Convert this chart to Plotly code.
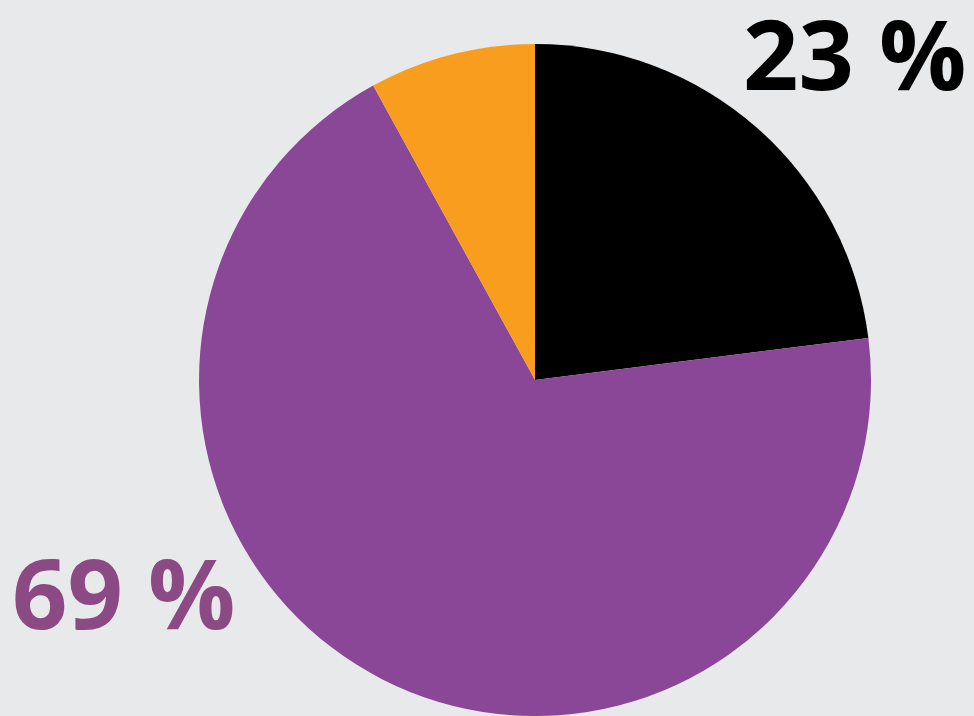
import plotly.graph_objects as go

# slice data, clockwise from 12 o'clock
labels = ["Black", "Purple", "Orange"]
values = [23, 69, 8]
colors = ["#000000", "#8a4697", "#f99d1f"]

# callout text
label_texts = ["23 %", "69 %"]
label_colors = ["#000000", "#8b4a84"]

fig = go.Figure()

fig.add_trace(go.Pie(
    labels=labels,
    values=values,
    sort=False,
    direction="clockwise",
    rotation=0,
    textinfo="none",
    hoverinfo="label+percent",
    marker=dict(colors=colors, line=dict(width=0)),
    domain=dict(x=[0.2043, 0.8943], y=[0.0, 0.9385]),
    showlegend=False,
))

fig.add_annotation(x=0.878, y=0.928, xref="paper", yref="paper",
                   text=label_texts[0], showarrow=False,
                   xanchor="center", yanchor="middle", borderpad=0,
                   font=dict(family="Open Sans", size=97, color=label_colors[0], weight="bold"))
fig.add_annotation(x=0.127, y=0.175, xref="paper", yref="paper",
                   text=label_texts[1], showarrow=False,
                   xanchor="center", yanchor="middle", borderpad=0,
                   font=dict(family="Open Sans", size=97, color=label_colors[1], weight="bold"))

fig.update_layout(
    width=974, height=716,
    margin=dict(l=0, r=0, t=0, b=0),
    paper_bgcolor="#e8e9ea",
    plot_bgcolor="#e8e9ea",
)

# drop the default page margin so the figure fills the window
fig.write_html("out.html", config={"displayModeBar": False},
               post_script="document.body.style.margin='0';")
